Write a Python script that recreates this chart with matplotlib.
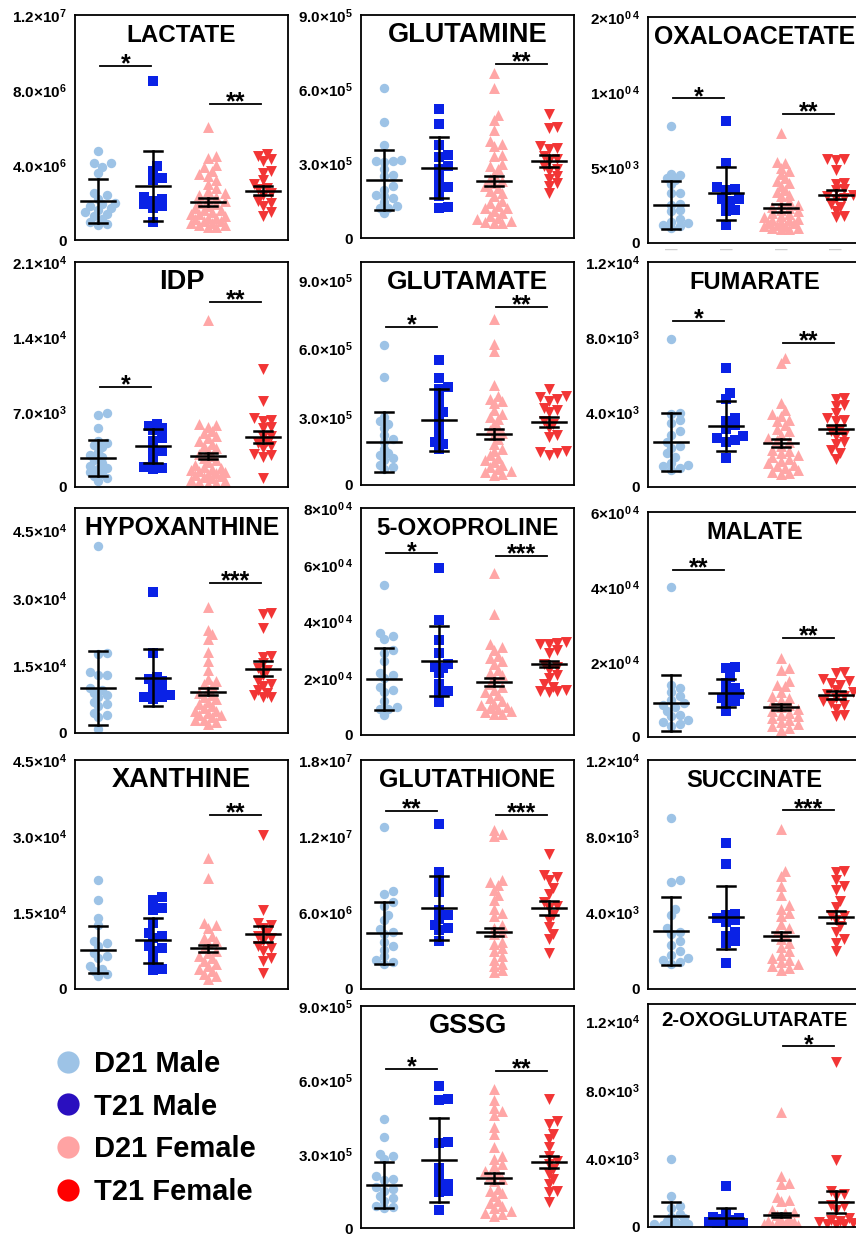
import numpy as np
import matplotlib
matplotlib.use('Agg')
import matplotlib.pyplot as plt
from matplotlib.lines import Line2D

plt.rcParams['font.family'] = ['Liberation Sans', 'DejaVu Sans']
plt.rcParams['font.weight'] = 'bold'
plt.rcParams['mathtext.fontset'] = 'custom'
plt.rcParams['mathtext.rm'] = 'Liberation Sans:bold'
plt.rcParams['mathtext.bf'] = 'Liberation Sans:bold'
plt.rcParams['mathtext.it'] = 'Liberation Sans:bold'
plt.rcParams['mathtext.default'] = 'bf'

groups = ['D21 Male', 'T21 Male', 'D21 Female', 'T21 Female']
point_colors = ['#9dc3e6', '#0a22e6', '#ffa6a6', '#f23535']
legend_colors = ['#9dc3e6', '#2a0fbf', '#ffa3a3', '#ff0000']
markers = ['o', 's', '^', 'v']
msizes = [46, 42, 62, 62]

# ---- values (per group: D21M, T21M, D21F, T21F) ----
# LACTATE x1e6
lactate = [[4.75, 4.1, 4.1, 3.9, 3.6, 2.5, 2.4, 2.2, 2.0, 1.9, 1.8, 1.7, 1.6, 1.5, 1.4, 1.3, 1.1, 0.95, 0.87, 0.8],
           [8.5, 3.95, 3.7, 3.3, 3.2, 2.3, 2.2, 2.1, 1.9, 1.8, 1.7, 0.96],
           [6.0, 4.5, 4.4, 4.0, 3.9, 3.7, 3.5, 3.4, 3.2, 3.0, 2.8, 2.6, 2.5, 2.4, 2.3, 2.2, 2.1, 2.0, 1.9,
            1.8, 1.7, 1.6, 1.6, 1.5, 1.4, 1.4, 1.3, 1.2, 1.2, 1.1, 1.0, 1.0, 0.9, 0.9, 0.8, 0.8, 0.7, 0.7],
           [4.6, 4.5, 4.3, 4.2, 3.7, 3.6, 3.2, 3.0, 2.8, 2.7, 2.5, 2.4, 2.1, 2.0, 1.8, 1.5, 1.3]]
lactate_mean = [2.08, 2.88, 2.03, 2.63]
lactate_err = [1.17, 1.87, 0.21, 0.24]

# GLUTAMINE x1e5
glutamine = [[6.05, 4.7, 3.75, 3.15, 3.1, 3.1, 3.05, 2.8, 2.55, 2.5, 2.1, 1.95, 1.75, 1.7, 1.6, 1.45, 1.3, 1.2, 1.2, 1.0],
             [5.2, 4.6, 3.75, 3.35, 3.25, 2.9, 2.8, 2.4, 2.05, 2.0, 1.7, 1.25, 1.2],
             [6.65, 6.05, 4.95, 4.75, 4.35, 3.9, 3.8, 3.7, 3.35, 3.3, 3.0, 2.9, 2.8, 2.6, 2.4, 2.3, 2.2, 2.1,
              2.0, 1.9, 1.8, 1.7, 1.5, 1.4, 1.3, 1.2, 1.2, 1.1, 1.0, 0.9, 0.8, 0.75, 0.7, 0.65, 0.6, 0.6],
             [5.0, 4.5, 4.45, 3.7, 3.65, 3.6, 3.3, 3.2, 3.1, 2.9, 2.8, 2.7, 2.5, 2.4, 2.2, 2.1, 1.8]]
glutamine_mean = [2.34, 2.83, 2.3, 3.1]
glutamine_err = [1.22, 1.23, 0.2, 0.24]

# OXALOACETATE x1e3
oxaloacetate = [[7.77, 4.6, 4.5, 4.3, 4.2, 3.9, 3.3, 3.3, 2.6, 2.5, 2.2, 2.1, 1.6, 1.4, 1.3, 1.2, 1.1, 1.0],
                [8.1, 5.3, 3.7, 3.6, 3.5, 2.95, 2.9, 2.8, 2.5, 2.2, 2.1, 1.2],
                [7.3, 5.4, 5.3, 5.0, 4.8, 4.6, 4.3, 4.1, 4.0, 3.8, 3.5, 3.4, 3.2, 3.1, 2.8, 2.6, 2.5, 2.4, 2.3,
                 2.2, 2.1, 2.0, 1.9, 1.8, 1.7, 1.6, 1.5, 1.5, 1.4, 1.3, 1.3, 1.2, 1.1, 1.1, 1.0, 1.0, 0.9, 0.9],
                [5.6, 5.6, 5.5, 4.85, 4.0, 3.9, 3.6, 3.5, 3.2, 3.1, 3.0, 2.9, 2.6, 2.4, 2.1, 1.8, 1.7]]
oxaloacetate_mean = [2.52, 3.3, 2.33, 3.19]
oxaloacetate_err = [1.58, 1.76, 0.24, 0.3]

# IDP x1e3
idp = [[6.9, 6.75, 5.5, 4.3, 4.1, 3.9, 3.7, 3.3, 3.0, 2.8, 2.5, 2.2, 2.0, 1.8, 1.7, 1.4, 1.2, 1.0, 0.8, 0.6],
       [5.9, 5.7, 5.5, 5.3, 4.6, 4.3, 3.7, 3.4, 3.1, 2.5, 1.9, 1.8, 1.7],
       [15.6, 5.9, 5.8, 5.6, 5.2, 5.0, 4.8, 4.6, 4.3, 4.0, 3.8, 3.6, 3.4, 3.1, 2.9, 2.7, 2.5, 2.3, 2.1,
        1.9, 1.8, 1.7, 1.6, 1.5, 1.4, 1.3, 1.2, 1.1, 1.0, 0.9, 0.8, 0.7, 0.6, 0.5, 0.4, 0.3],
       [11.0, 8.0, 6.4, 6.3, 6.2, 5.6, 5.5, 4.8, 4.7, 4.3, 4.1, 3.8, 3.6, 3.1, 3.0, 2.8, 0.85]]
idp_mean = [2.7, 3.83, 2.9, 4.66]
idp_err = [1.7, 1.55, 0.3, 0.58]

# GLUTAMATE x1e5
glutamate = [[6.15, 4.74, 3.0, 2.8, 2.7, 2.5, 2.2, 2.0, 1.9, 1.6, 1.4, 1.3, 1.2, 1.1, 0.9, 0.8, 0.7],
             [5.5, 4.7, 4.3, 4.2, 3.8, 3.4, 3.2, 3.0, 2.6, 2.2, 1.9, 1.8, 1.6],
             [7.3, 6.2, 5.9, 4.4, 3.9, 3.8, 3.7, 3.6, 3.3, 3.1, 3.0, 2.9, 2.7, 2.5, 2.4, 2.3, 2.2, 2.0,
              1.8, 1.6, 1.5, 1.3, 1.2, 1.1, 1.0, 0.9, 0.8, 0.7, 0.6, 0.55, 0.5, 0.45],
             [4.2, 3.9, 3.85, 3.8, 3.7, 3.4, 3.3, 3.2, 2.8, 2.7, 2.5, 2.2, 2.1, 1.5, 1.45, 1.4, 1.3]]
glutamate_mean = [1.89, 2.85, 2.24, 2.77]
glutamate_err = [1.3, 1.35, 0.22, 0.22]

# FUMARATE x1e3
fumarate = [[7.9, 3.95, 3.9, 3.6, 3.4, 3.0, 2.8, 2.4, 2.2, 2.1, 1.8, 1.6, 1.3, 1.2, 1.1, 1.0, 0.9],
            [6.35, 5.0, 4.7, 3.7, 3.5, 3.3, 3.1, 2.7, 2.6, 2.5, 2.4, 1.55],
            [6.9, 6.6, 4.5, 4.1, 3.9, 3.8, 3.6, 3.5, 3.3, 3.1, 3.0, 2.8, 2.6, 2.5, 2.4, 2.2, 2.0, 1.9,
             1.8, 1.7, 1.6, 1.5, 1.4, 1.3, 1.2, 1.1, 1.0, 0.9, 0.8, 0.75, 0.7],
            [4.75, 4.7, 4.35, 4.3, 3.95, 3.7, 3.6, 3.5, 3.1, 3.0, 2.8, 2.7, 2.4, 2.3, 2.0, 1.8, 1.5]]
fumarate_mean = [2.4, 3.25, 2.35, 3.1]
fumarate_err = [1.55, 1.35, 0.22, 0.22]

# HYPOXANTHINE x1e4
hypoxanthine = [[4.16, 1.77, 1.75, 1.35, 1.3, 1.3, 1.0, 0.95, 0.9, 0.85, 0.8, 0.7, 0.65, 0.6, 0.45, 0.4, 0.35, 0.1],
                [3.13, 1.77, 1.25, 1.2, 1.15, 1.1, 1.0, 0.95, 0.85, 0.8, 0.8, 0.75],
                [2.8, 2.3, 2.2, 2.1, 1.8, 1.6, 1.4, 1.2, 1.15, 1.1, 1.05, 0.95, 0.9, 0.85, 0.8, 0.75, 0.7,
                 0.65, 0.6, 0.55, 0.5, 0.5, 0.45, 0.4, 0.4, 0.35, 0.3, 0.3, 0.25, 0.2],
                [2.66, 2.65, 2.33, 1.72, 1.7, 1.55, 1.45, 1.4, 1.3, 1.15, 1.1, 1.05, 0.95, 0.9, 0.85, 0.8, 0.8]]
hypoxanthine_mean = [1.0, 1.23, 0.92, 1.43]
hypoxanthine_err = [0.82, 0.63, 0.08, 0.16]

# 5-OXOPROLINE x1e4
oxoproline = [[5.3, 3.6, 3.5, 3.4, 3.0, 2.9, 2.6, 2.2, 2.1, 2.0, 1.7, 1.6, 1.5, 1.2, 1.0, 0.9, 0.9, 0.7],
              [5.9, 4.05, 3.35, 2.9, 2.5, 2.4, 2.35, 2.2, 1.8, 1.55, 1.5, 1.15],
              [5.7, 4.25, 3.2, 3.1, 3.0, 2.8, 2.7, 2.6, 2.5, 2.3, 2.2, 2.1, 2.0, 1.8, 1.7, 1.6, 1.5,
               1.4, 1.3, 1.2, 1.1, 1.05, 1.0, 0.95, 0.9, 0.85, 0.8, 0.75, 0.75],
              [3.27, 3.25, 3.2, 3.2, 3.0, 2.9, 2.5, 2.4, 2.3, 2.1, 2.0, 1.8, 1.7, 1.6, 1.55, 1.55, 1.5]]
oxoproline_mean = [1.97, 2.6, 1.86, 2.5]
oxoproline_err = [1.1, 1.24, 0.15, 0.12]

# MALATE x1e4
malate = [[4.0, 1.4, 1.3, 1.2, 1.1, 1.0, 0.9, 0.85, 0.8, 0.7, 0.6, 0.55, 0.45, 0.4, 0.35, 0.3],
          [1.86, 1.85, 1.6, 1.45, 1.3, 1.25, 1.15, 1.1, 1.05, 0.95, 0.9, 0.7],
          [2.1, 1.85, 1.8, 1.5, 1.4, 1.35, 1.2, 1.1, 1.05, 1.0, 0.9, 0.85, 0.8, 0.75, 0.7, 0.65,
           0.6, 0.55, 0.5, 0.45, 0.4, 0.35, 0.3, 0.25, 0.2],
          [1.73, 1.7, 1.55, 1.5, 1.45, 1.4, 1.25, 1.2, 1.15, 1.1, 1.05, 0.95, 0.9, 0.85, 0.75, 0.6, 0.55]]
malate_mean = [0.9, 1.17, 0.8, 1.12]
malate_err = [0.75, 0.38, 0.07, 0.1]

# XANTHINE x1e4
xanthine = [[2.15, 1.75, 1.4, 1.25, 0.95, 0.9, 0.85, 0.7, 0.65, 0.6, 0.45, 0.4, 0.35, 0.3, 0.25],
            [1.8, 1.75, 1.6, 1.55, 1.3, 1.1, 1.05, 1.0, 0.85, 0.8, 0.75, 0.55, 0.4, 0.38],
            [2.57, 2.18, 1.3, 1.25, 1.2, 1.05, 1.0, 0.95, 0.9, 0.8, 0.75, 0.7, 0.65, 0.6, 0.55, 0.5,
             0.45, 0.4, 0.35, 0.3, 0.25, 0.2],
            [3.03, 1.55, 1.3, 1.25, 1.2, 1.1, 1.05, 1.0, 0.95, 0.85, 0.8, 0.75, 0.6, 0.55, 0.32]]
xanthine_mean = [0.77, 0.96, 0.8, 1.08]
xanthine_err = [0.46, 0.44, 0.07, 0.15]

# GLUTATHIONE x1e6
glutathione = [[12.7, 7.7, 7.5, 6.8, 6.5, 5.8, 5.4, 4.7, 4.5, 4.3, 3.7, 3.4, 3.1, 2.6, 2.3, 2.1, 2.0],
               [12.97, 9.2, 8.6, 8.1, 7.6, 6.2, 5.8, 5.5, 5.0, 4.8, 4.6, 3.8],
               [12.5, 12.2, 12.0, 8.6, 8.4, 8.2, 7.8, 7.4, 7.0, 6.3, 6.0, 5.7, 5.0, 4.8, 4.5, 4.3,
                3.7, 3.5, 3.2, 3.0, 2.6, 2.3, 2.0, 1.8, 1.5, 1.3],
               [10.6, 9.0, 8.8, 8.6, 7.9, 7.5, 6.8, 6.5, 6.4, 5.8, 5.4, 4.9, 4.3, 3.9, 2.8]]
glutathione_mean = [4.4, 6.37, 4.48, 6.37]
glutathione_err = [2.4, 2.5, 0.35, 0.53]

# SUCCINATE x1e3
succinate = [[8.96, 5.7, 5.6, 4.2, 3.9, 3.2, 3.0, 2.9, 2.5, 2.3, 2.0, 1.8, 1.6, 1.5, 1.4, 1.3],
             [7.65, 6.55, 3.95, 3.9, 3.7, 3.6, 3.5, 3.0, 2.8, 2.5, 2.4, 1.36],
             [8.4, 6.2, 5.9, 5.4, 4.9, 4.4, 4.2, 4.0, 3.8, 3.4, 3.2, 3.0, 2.9, 2.6, 2.4, 2.2, 2.0,
              1.8, 1.6, 1.5, 1.4, 1.3, 1.2, 1.1, 1.0],
             [6.2, 6.15, 5.7, 5.4, 5.2, 4.6, 4.3, 3.9, 3.8, 3.6, 3.3, 3.0, 2.6, 2.4, 2.0]]
succinate_mean = [3.04, 3.77, 2.78, 3.77]
succinate_err = [1.77, 1.65, 0.2, 0.3]

# GSSG x1e5
gssg = [[4.43, 3.67, 2.98, 2.9, 2.8, 2.1, 2.0, 1.95, 1.65, 1.6, 1.5, 1.3, 1.2, 1.1, 0.9, 0.85, 0.8],
        [5.75, 5.25, 5.2, 3.48, 3.45, 2.45, 2.1, 1.8, 1.7, 1.5, 1.45, 0.72],
        [5.65, 5.2, 4.85, 4.75, 4.6, 4.1, 3.8, 3.3, 2.9, 2.8, 2.6, 2.5, 2.3, 2.2, 2.1, 2.0, 1.9,
         1.6, 1.5, 1.4, 1.3, 1.1, 1.0, 0.9, 0.8, 0.7, 0.6, 0.55, 0.5],
        [5.25, 4.35, 4.2, 3.8, 3.6, 3.3, 2.9, 2.7, 2.6, 2.4, 2.2, 2.0, 1.8, 1.5, 1.45, 1.05]]
gssg_mean = [1.75, 2.75, 2.03, 2.68]
gssg_err = [0.93, 1.7, 0.22, 0.25]

# 2-OXOGLUTARATE x1e3
oxoglutarate = [[3.95, 1.8, 1.2, 1.1, 0.75, 0.6, 0.5, 0.35, 0.3, 0.2, 0.15, 0.1, 0.1, 0.05],
                [2.38, 0.8, 0.6, 0.5, 0.45, 0.4, 0.3, 0.25, 0.2, 0.15, 0.1],
                [6.7, 2.95, 2.55, 2.5, 1.75, 1.6, 1.5, 1.0, 0.9, 0.8, 0.7, 0.5, 0.4, 0.35, 0.3, 0.25,
                 0.2, 0.15, 0.1, 0.1, 0.05, 0.05],
                [9.6, 3.9, 2.1, 1.9, 1.8, 1.3, 1.2, 1.0, 0.5, 0.4, 0.35, 0.3, 0.25, 0.2, 0.15, 0.1]]
oxoglutarate_mean = [0.64, 0.53, 0.7, 1.45]
oxoglutarate_err = [0.81, 0.57, 0.13, 0.65]

# tick labels as printed on the original
lab_e6 = ['0', r'$4.0×10^{6}$', r'$8.0×10^{6}$', r'$1.2×10^{7}$']
lab_e5 = ['0', r'$3.0×10^{5}$', r'$6.0×10^{5}$', r'$9.0×10^{5}$']
lab_oxa = ['0', r'$5×10^{0\,3}$', r'$1×10^{0\,4}$', r'$2×10^{0\,4}$']
lab_idp = ['0', r'$7.0×10^{3}$', r'$1.4×10^{4}$', r'$2.1×10^{4}$']
lab_e3 = ['0', r'$4.0×10^{3}$', r'$8.0×10^{3}$', r'$1.2×10^{4}$']
lab_15e4 = ['0', r'$1.5×10^{4}$', r'$3.0×10^{4}$', r'$4.5×10^{4}$']
lab_oxo = ['0', r'$2×10^{0\,4}$', r'$4×10^{0\,4}$', r'$6×10^{0\,4}$', r'$8×10^{0\,4}$']
lab_mal = ['0', r'$2×10^{0\,4}$', r'$4×10^{0\,4}$', r'$6×10^{0\,4}$']
lab_gsh = ['0', r'$6.0×10^{6}$', r'$1.2×10^{7}$', r'$1.8×10^{7}$']

# name, data, mean, err, scale, ymax, ticks, labels, title size, stars, (left, top, bottom) px
panels = [
    ('LACTATE', lactate, lactate_mean, lactate_err, 1e6, 12e6, [0, 4e6, 8e6, 12e6], lab_e6, 17.5,
     [(0.5, '*', 0.773), (2.5, '**', 0.604)], (75, 15, 240)),
    ('GLUTAMINE', glutamine, glutamine_mean, glutamine_err, 1e5, 9e5, [0, 3e5, 6e5, 9e5], lab_e5, 19.5,
     [(2.5, '**', 0.78)], (361, 15, 238)),
    ('OXALOACETATE', oxaloacetate, oxaloacetate_mean, oxaloacetate_err, 1e3, 1.5e4, [0, 5e3, 1e4, 1.5e4],
     lab_oxa, 17.8, [(0.5, '*', 0.64), (2.5, '**', 0.57)], (648, 17, 243)),
    ('IDP', idp, idp_mean, idp_err, 1e3, 2.1e4, [0, 7e3, 1.4e4, 2.1e4], lab_idp, 19.5,
     [(0.5, '*', 0.444), (2.5, '**', 0.822)], (75, 262, 487)),
    ('GLUTAMATE', glutamate, glutamate_mean, glutamate_err, 1e5, 9.8e5, [0, 3e5, 6e5, 9e5], lab_e5, 19,
     [(0.5, '*', 0.71), (2.5, '**', 0.80)], (361, 262, 485)),
    ('FUMARATE', fumarate, fumarate_mean, fumarate_err, 1e3, 1.2e4, [0, 4e3, 8e3, 1.2e4], lab_e3, 17,
     [(0.5, '*', 0.738), (2.5, '**', 0.64)], (648, 262, 487)),
    ('HYPOXANTHINE', hypoxanthine, hypoxanthine_mean, hypoxanthine_err, 1e4, 5.0e4, [0, 1.5e4, 3e4, 4.5e4],
     lab_15e4, 17.7, [(2.5, '***', 0.667)], (75, 508, 733)),
    ('5-OXOPROLINE', oxoproline, oxoproline_mean, oxoproline_err, 1e4, 8e4, [0, 2e4, 4e4, 6e4, 8e4],
     lab_oxo, 17.4, [(0.5, '*', 0.80), (2.5, '***', 0.79)], (361, 508, 735)),
    ('MALATE', malate, malate_mean, malate_err, 1e4, 6e4, [0, 2e4, 4e4, 6e4], lab_mal, 17,
     [(0.5, '**', 0.742), (2.5, '**', 0.44)], (648, 512, 737)),
    ('XANTHINE', xanthine, xanthine_mean, xanthine_err, 1e4, 4.5e4, [0, 1.5e4, 3e4, 4.5e4], lab_15e4, 19.5,
     [(2.5, '**', 0.76)], (75, 760, 989)),
    ('GLUTATHIONE', glutathione, glutathione_mean, glutathione_err, 1e6, 1.8e7, [0, 6e6, 1.2e7, 1.8e7],
     lab_gsh, 18, [(0.5, '**', 0.777), (2.5, '***', 0.76)], (361, 760, 989)),
    ('SUCCINATE', succinate, succinate_mean, succinate_err, 1e3, 1.2e4, [0, 4e3, 8e3, 1.2e4], lab_e3, 17,
     [(2.5, '***', 0.78)], (648, 760, 989)),
    ('GSSG', gssg, gssg_mean, gssg_err, 1e5, 9e5, [0, 3e5, 6e5, 9e5], lab_e5, 19.5,
     [(0.5, '*', 0.716), (2.5, '**', 0.707)], (361, 1006, 1228)),
    ('2-OXOGLUTARATE', oxoglutarate, oxoglutarate_mean, oxoglutarate_err, 1e3, 1.3e4, [0, 4e3, 8e3, 1.2e4],
     lab_e3, 14.7, [(2.5, '*', 0.81)], (648, 1004, 1227)),
]

W, H = 856, 1236
fig = plt.figure(figsize=(W / 100, H / 100), dpi=100)


def swarm_x(ax, x0, vals, diam, max_off=19.0):
    # simple beeswarm: place points (low to high) at the free offset nearest the centre,
    # kept within +-max_off pixels (overlap allowed when the band is full)
    pts = ax.transData.transform(np.column_stack([np.full(len(vals), x0), vals]))
    ys = pts[:, 1]
    order = np.argsort(ys)
    step = diam * 0.45
    cands = [0.0]
    k = 1
    while k * step <= max_off:
        cands += [k * step, -k * step]
        k += 1
    placed = []
    offs = np.zeros(len(vals))
    for i in order:
        best, best_d = 0.0, -1.0
        for c in cands:
            d = min([np.hypot(c - px, ys[i] - py) for px, py in placed] + [1e9])
            if d >= 0.62 * diam:
                best = c
                break
            if d > best_d:
                best, best_d = c, d
        offs[i] = best
        placed.append((best, ys[i]))
    sx = ax.transData.transform([[1, 0]])[0, 0] - ax.transData.transform([[0, 0]])[0, 0]
    return x0 + offs / sx


for (name, data, means, errs, scale, ymax, ticks, labels, tsize, stars, rect) in panels:
    left, top, bottom = rect
    ax = fig.add_axes([left / W, 1 - bottom / H, 213 / W, (bottom - top) / H])
    ax.set_xlim(-0.42, 3.46)
    ax.set_ylim(0, ymax)
    ax.set_xticks([])
    ax.set_yticks(ticks)
    ax.set_yticklabels(labels, fontsize=11, fontweight='bold')
    ax.tick_params(axis='y', length=0, pad=6)
    for sp in ax.spines.values():
        sp.set_linewidth(1.3)
        sp.set_color('black')

    for i in range(4):
        vals = np.array(data[i]) * scale
        xs = swarm_x(ax, i, vals, 9.5)
        ax.scatter(xs, vals, s=msizes[i], marker=markers[i], color=point_colors[i],
                   linewidths=0, zorder=2)
        m = means[i] * scale
        e = errs[i] * scale
        ax.plot([i - 0.31, i + 0.31], [m, m], color='black', lw=1.8, zorder=3)
        ax.plot([i, i], [m - e, m + e], color='black', lw=1.8, zorder=3)
        ax.plot([i - 0.16, i + 0.16], [m + e, m + e], color='black', lw=1.8, zorder=3)
        ax.plot([i - 0.16, i + 0.16], [m - e, m - e], color='black', lw=1.8, zorder=3)

    ty = 0.9 if name == '2-OXOGLUTARATE' else 0.88
    ax.text(0.5, ty, name, transform=ax.transAxes, ha='center', va='baseline',
            fontsize=tsize, fontweight='bold', clip_on=False)

    trans = ax.get_xaxis_transform()
    for (cx, txt, yf) in stars:
        ax.plot([cx - 0.46, cx + 0.46], [yf, yf], transform=trans, color='black', lw=1.3)
        ax.annotate(txt, xy=(cx, yf), xycoords=trans, xytext=(0, -4), textcoords='offset points',
                    ha='center', va='baseline', fontsize=18, fontweight='bold')

    if name == 'OXALOACETATE':
        for i in range(4):
            ax.text(i, -0.032, '—', transform=trans, ha='center', va='center',
                    fontsize=9, color='#d0d0d0', clip_on=False)

handles = [Line2D([], [], marker='o', ls='', markersize=16, markerfacecolor=c, markeredgewidth=0)
           for c in legend_colors]
fig.legend(handles, groups, loc='upper left', bbox_to_anchor=(53 / W, 1 - 1050 / H),
           frameon=False, prop={'size': 21, 'weight': 'bold'}, handlelength=1.0,
           handletextpad=0.4, labelspacing=0.5, borderpad=0, borderaxespad=0)

fig.savefig('out.png', dpi=100)
